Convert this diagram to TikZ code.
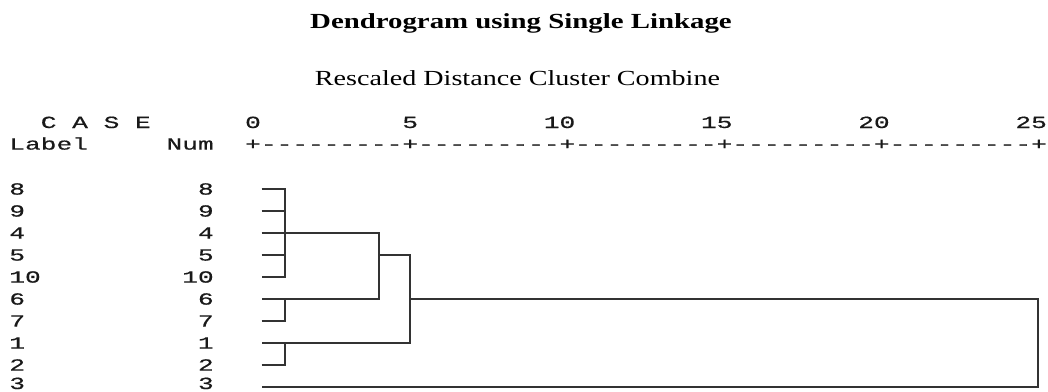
\documentclass[tikz,border=0pt]{standalone}
\usepackage{fontspec}
\newfontfamily\monofont[FakeStretch=1.541,FakeBold=0.6]{Liberation Mono}
\newfontfamily\serifwide[FakeStretch=1.341]{Liberation Serif}
\newfontfamily\serifsub[FakeStretch=1.307]{Liberation Serif}
\begin{document}
\begin{tikzpicture}[x=1pt,y=-1pt,
  mono/.style={font={\monofont\fontsize{17pt}{17pt}\selectfont}, inner sep=0pt, outer sep=0pt, text=black!90, anchor=base west},
  monor/.style={mono, anchor=base east},
  dline/.style={draw=black!80, line width=1.5pt, line join=miter}]
\useasboundingbox[fill=white] (0,0) rectangle (1048,391);
% titles
\node[font={\serifwide\bfseries\fontsize{21.5pt}{21.5pt}\selectfont}, anchor=base, inner sep=0pt] (title) at (521,28.5) {Dendrogram using Single Linkage};
\node[font={\serifsub\fontsize{21.5pt}{21.5pt}\selectfont}, anchor=base, inner sep=0pt] (subtitle) at (517.5,85) {Rescaled Distance Cluster Combine};
% header
\node[mono] (hC) at (40.78,128) {C};
\node[mono] (hA) at (72.22,128) {A};
\node[mono] (hS) at (103.66,128) {S};
\node[mono] (hE) at (135.10,128) {E};
\node[mono] (t0) at (245.14,128) {0};
\node[mono] (t5) at (402.34,128) {5};
\node[mono] (t10) at (543.82,128) {10};
\node[mono] (t15) at (701.02,128) {15};
\node[mono] (t20) at (858.22,128) {20};
\node[mono] (t25) at (1015.42,128) {25};
\node[mono] (hLabel) at (9.34,149.6) {Label};
\node[mono] (hNum) at (166.54,149.6) {Num};
\node[mono] (ruler) at (245.14,149.6) {+---------+---------+---------+---------+---------+};
% rows
\foreach \lab/\y/\b in {8/189/194.6,9/211/216.6,4/233/238.6,5/255/260.6,10/277/282.6,6/299/304.6,7/321/326.6,1/343/348.6,2/365/370.6,3/387/389.0}{
  \node[mono] (lab\lab) at (9.34,\b) {\lab};
  \node[monor] (num\lab) at (213.7,\b) {\lab};
  \coordinate (s\lab) at (261.5,\y);
}
% joins
\coordinate (a8) at (285,189);
\coordinate (a9) at (285,211);
\coordinate (a5) at (285,255);
\coordinate (a10) at (285,277);
\coordinate (a6) at (285,299);
\coordinate (a7) at (285,321);
\coordinate (a1) at (285,343);
\coordinate (a2) at (285,365);
\coordinate (b4) at (379,233);
\coordinate (b5) at (379,255);
\coordinate (b6) at (379,299);
\coordinate (c5) at (410,255);
\coordinate (c6) at (410,299);
\coordinate (c1) at (410,343);
\coordinate (d6) at (1038,299);
\coordinate (d3) at (1038,387);
% dendrogram
\draw[dline] (s8) -- (a8) -- (a10) -- (s10);
\draw[dline] (s9) -- (a9);
\draw[dline] (s5) -- (a5);
\draw[dline] (s4) -- (b4) -- (b6) -- (s6);
\draw[dline] (s7) -- (a7) -- (a6);
\draw[dline] (b5) -- (c5) -- (c1) -- (s1);
\draw[dline] (s2) -- (a2) -- (a1);
\draw[dline] (c6) -- (d6) -- (d3) -- (s3);
\end{tikzpicture}
\end{document}
